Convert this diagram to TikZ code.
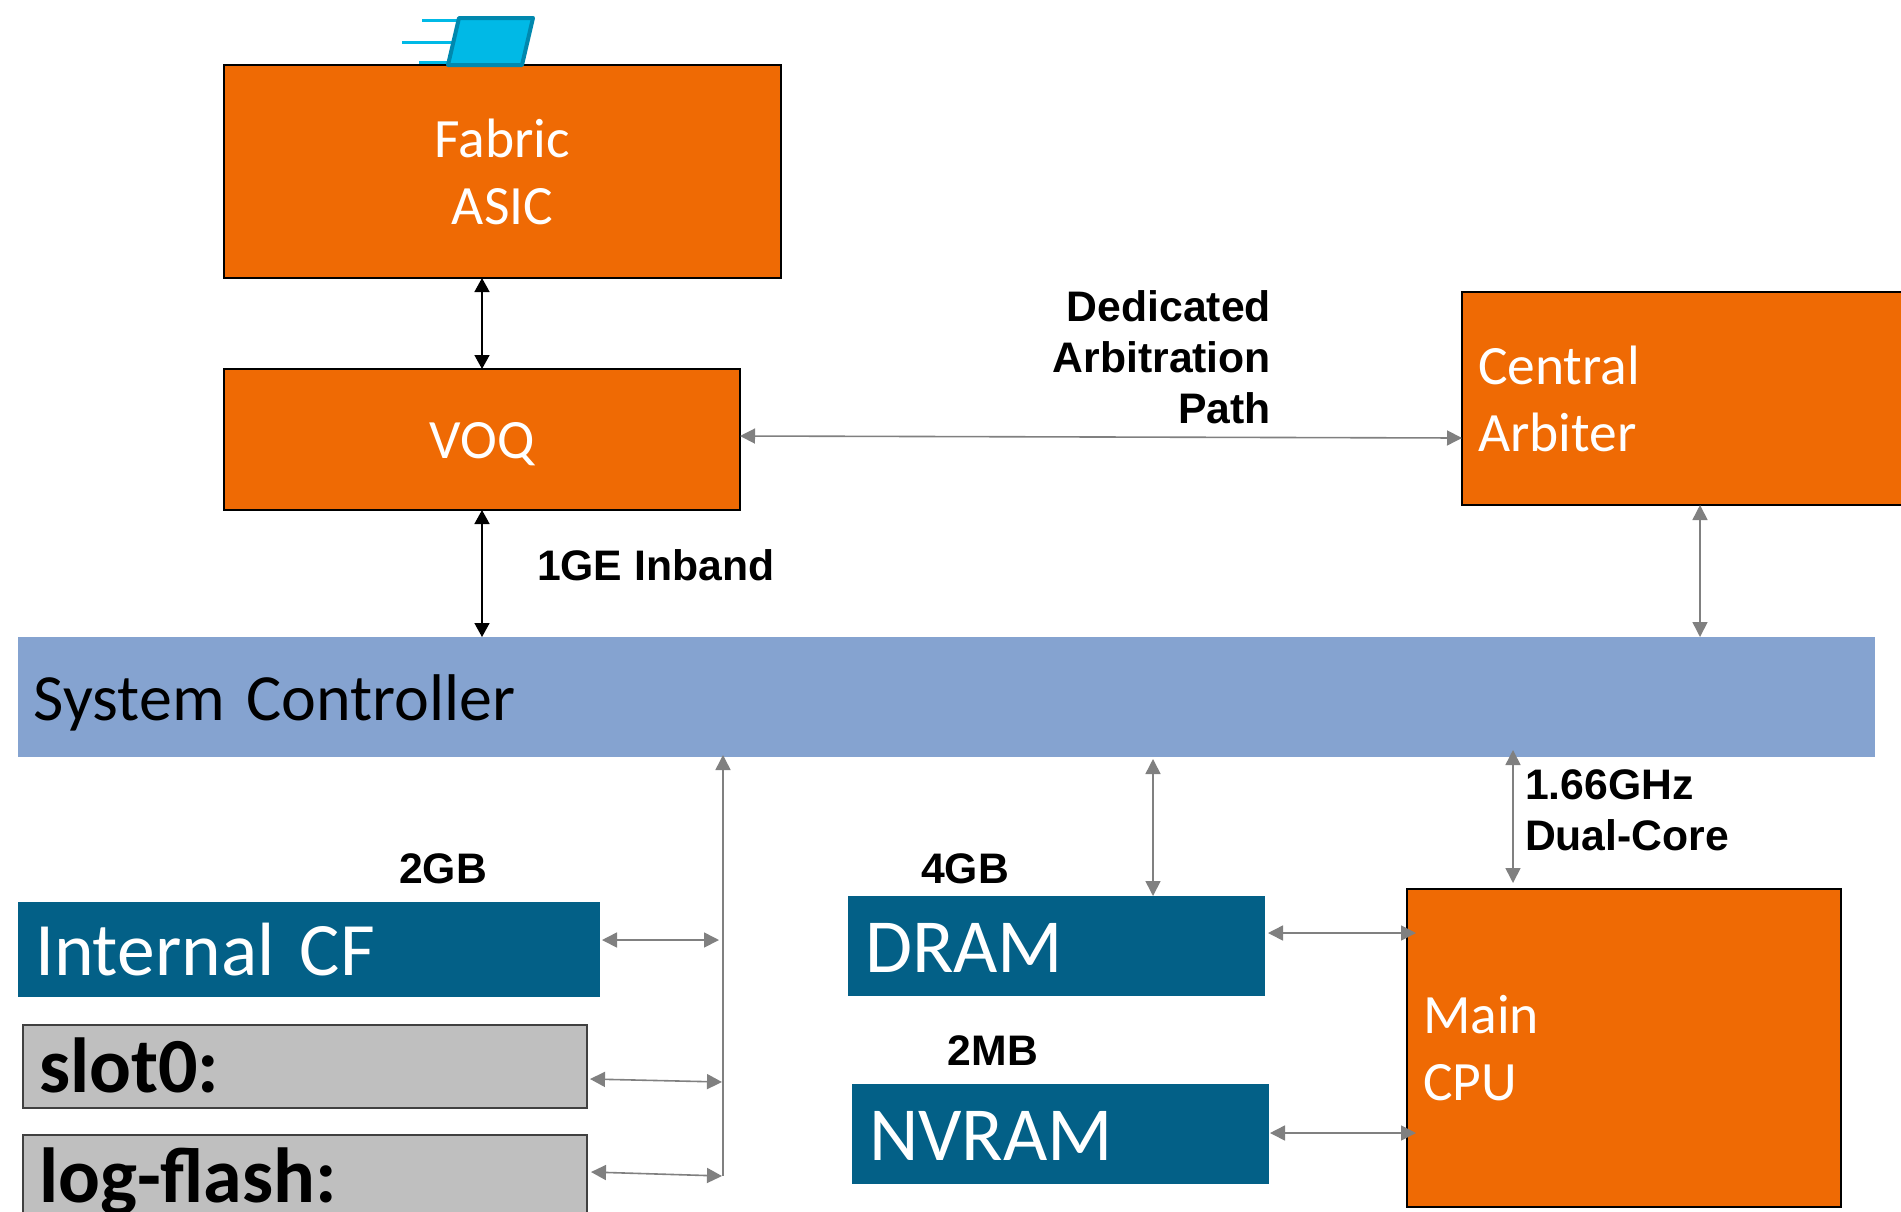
\documentclass[tikz,border=0pt]{standalone}
\usepackage{fontspec}
\usetikzlibrary{arrows.meta}
\setmainfont{Carlito}[WordSpace=0.6]
\newfontfamily\lab{Liberation Sans}[Scale=1]
\definecolor{orangebox}{HTML}{EF6A04}
\definecolor{bluebar}{HTML}{85A3D0}
\definecolor{tealbox}{HTML}{036087}
\definecolor{greybox}{HTML}{BFBFBF}
\definecolor{linegrey}{HTML}{808080}
\definecolor{lapfill}{HTML}{00B9E6}
\definecolor{lapedge}{HTML}{0088AE}
\newcommand{\lowered}[2]{\raisebox{-#1}[\height][\depth]{#2}}
\tikzset{
  base/.style={anchor=north west,outer sep=0pt,inner ysep=0pt},
  orangenode/.style={base,fill=orangebox,draw=black,line width=1.8pt,text=white,font=\fontsize{55.5}{67}\selectfont},
  barnode/.style={base,fill=bluebar,text=black,align=left,inner xsep=16pt,text width=1825pt,font=\fontsize{66}{70}\selectfont},
  tealnode/.style={base,fill=tealbox,text=white,align=left,inner xsep=17pt,font=\fontsize{76.5}{80}\selectfont},
  greynode/.style={base,fill=greybox,draw=black!75,line width=1.8pt,text=black,align=left,inner xsep=16pt,font=\fontsize{78}{80}\selectfont\bfseries},
  labelnode/.style={inner sep=0pt,outer sep=0pt,text=black,font=\lab\fontsize{42.7}{51}\selectfont\bfseries},
  blackarrow/.style={line width=1.6pt,black,{Triangle[length=14pt,width=15pt]}-{Triangle[length=14pt,width=15pt]}},
  greyarrow/.style={line width=1.6pt,linegrey,{Triangle[length=15pt,width=15pt]}-{Triangle[length=15pt,width=15pt]}},
  speedline/.style={line width=3pt,lapfill},
}
\begin{document}
\begin{tikzpicture}[x=1pt,y=-1pt]
\clip (0,0) rectangle (1901,1211);
\fill[white] (0,0) rectangle (1901,1211);
% boxes
\node[orangenode,minimum width=557pt,minimum height=213pt,align=center] (fabric) at (224,65) {Fabric\\ASIC};
\node[orangenode,minimum width=516pt,minimum height=141pt,align=center] (voq) at (224,369) {\lowered{5pt}{VOQ}};
\node[orangenode,minimum height=213pt,text width=440pt,inner xsep=16pt,align=left] (arb) at (1462,292) {Central\\Arbiter};
\node[barnode,minimum height=120pt] (sc) at (18,637) {\lowered{6pt}{System Controller}};
\node[tealnode,minimum height=95pt,text width=548pt] (cf) at (18,902) {\fontsize{75.5}{80}\selectfont Internal CF};
\node[greynode,minimum height=83pt,text width=532pt] (slot) at (23,1025) {\lowered{-1pt}{slot0:}};
\node[greynode,minimum height=86pt,text width=532pt] (log) at (23,1135) {\lowered{4pt}{log-flash:}};
\node[tealnode,minimum height=100pt,text width=383pt] (dram) at (848,896) {\lowered{2pt}{DRAM}};
\node[tealnode,minimum height=100pt,text width=383pt] (nvram) at (852,1084) {\lowered{2pt}{NVRAM}};
\node[orangenode,minimum height=318pt,text width=402pt,inner xsep=16pt,align=left] (cpu) at (1407,889) {Main\\CPU};
% laptop icon
\draw[speedline] (422,20) -- (462,20);
\draw[speedline] (402,42) -- (455,42);
\draw[speedline] (419,62) -- (450,62);
\draw[fill=lapfill,draw=lapedge,line width=4pt,line join=round] (459,18) -- (533,18) -- (522,65) -- (448,65) -- cycle;
% labels
\node[labelnode,anchor=east,align=right] (path) at (1271,357) {Dedicated\\Arbitration\\Path};
\node[labelnode,anchor=west] (inband) at (537,565) {1GE Inband};
\node[labelnode,anchor=center] (gb2) at (443,869) {2GB};
\node[labelnode,anchor=center] (gb4) at (965,869) {4GB};
\node[labelnode,anchor=center] (mb2) at (993,1051) {2MB};
\node[labelnode,anchor=west,align=left] (ghz) at (1525,810) {1.66GHz\\Dual-Core};
% connector end points
\coordinate (xvoq) at (482,0);
\coordinate (xarb) at (1700,0);
\coordinate (xdram) at (1153,0);
\coordinate (voqout) at (740,436);
\coordinate (arbin) at (1462,438);
\coordinate (buscf) at (719,940);
\coordinate (cfout) at (602,940);
\coordinate (slotout) at (590,1079);
\coordinate (busslot) at (722,1082);
\coordinate (logout) at (591,1172);
\coordinate (buslog) at (722,1176);
\coordinate (busend) at (723,1176);
\coordinate (busup) at (723,755);
\coordinate (dramtop) at (1153,759);
\coordinate (cputop) at (1513,750);
\coordinate (cpuend) at (1513,883);
\coordinate (dramout) at (1268,933);
\coordinate (cpudram) at (1416,933);
\coordinate (nvout) at (1270,1133);
\coordinate (cpunv) at (1416,1133);
% connectors
\draw[blackarrow] (fabric.south -| xvoq) -- (voq.north -| xvoq);
\draw[blackarrow] (voq.south -| xvoq) -- (sc.north -| xvoq);
\draw[greyarrow] (voqout) -- (arbin);
\draw[greyarrow] (arb.south -| xarb) -- (sc.north -| xarb);
\draw[line width=1.6pt,linegrey,{Triangle[length=15pt,width=15pt]}-] (busup) -- (busend);
\draw[greyarrow] (cfout) -- (buscf);
\draw[greyarrow] (slotout) -- (busslot);
\draw[greyarrow] (logout) -- (buslog);
\draw[greyarrow] (dramtop) -- (dram.north -| xdram);
\draw[greyarrow] (cputop) -- (cpuend);
\draw[greyarrow] (dramout) -- (cpudram);
\draw[greyarrow] (nvout) -- (cpunv);
\end{tikzpicture}
\end{document}
